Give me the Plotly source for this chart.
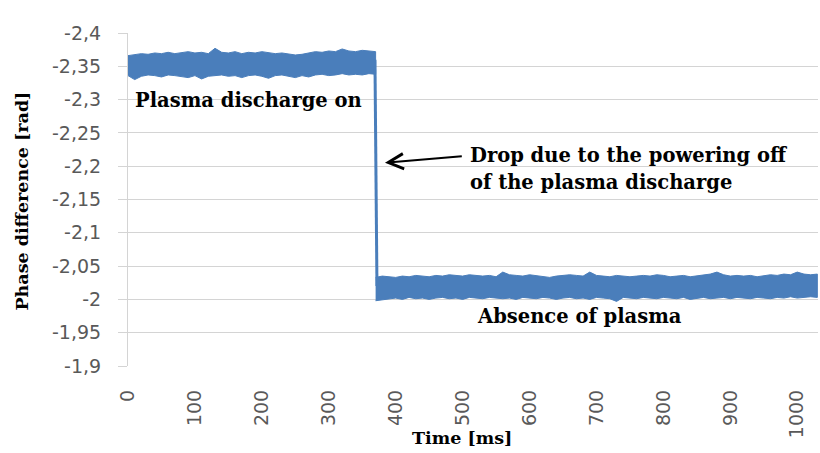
import plotly.graph_objects as go

# ---- data ----
time_on = list(range(0, 371, 10))
upper_on = [-2.366, -2.367, -2.369, -2.368, -2.370, -2.369, -2.371, -2.369, -2.370, -2.372,
            -2.370, -2.371, -2.369, -2.377, -2.371, -2.370, -2.372, -2.369, -2.371, -2.370,
            -2.372, -2.371, -2.369, -2.370, -2.368, -2.367, -2.368, -2.370, -2.372, -2.371,
            -2.373, -2.372, -2.376, -2.373, -2.372, -2.374, -2.373, -2.372]
lower_on = [-2.336, -2.330, -2.335, -2.337, -2.336, -2.334, -2.337, -2.336, -2.335, -2.333,
            -2.336, -2.331, -2.335, -2.336, -2.337, -2.335, -2.336, -2.333, -2.336, -2.337,
            -2.335, -2.332, -2.336, -2.337, -2.335, -2.333, -2.336, -2.334, -2.337, -2.338,
            -2.336, -2.337, -2.339, -2.337, -2.338, -2.337, -2.339, -2.338]

time_off = list(range(370, 1031, 10))
upper_off = [-2.033, -2.035, -2.034, -2.033, -2.035, -2.034, -2.036, -2.035, -2.034, -2.036,
             -2.035, -2.037, -2.036, -2.035, -2.037, -2.036, -2.035, -2.036, -2.034, -2.041,
             -2.037, -2.036, -2.035, -2.037, -2.036, -2.035, -2.033, -2.035, -2.036, -2.037,
             -2.036, -2.035, -2.041, -2.036, -2.035, -2.034, -2.036, -2.035, -2.034, -2.035,
             -2.036, -2.035, -2.037, -2.036, -2.034, -2.035, -2.036, -2.034, -2.035, -2.036,
             -2.038, -2.041, -2.037, -2.035, -2.036, -2.035, -2.036, -2.034, -2.036, -2.037,
             -2.036, -2.038, -2.037, -2.041, -2.038, -2.037, -2.038]
lower_off = [-1.998, -1.999, -2.001, -2.002, -2.000, -2.003, -2.001, -2.002, -2.000, -2.002,
             -2.003, -2.001, -2.002, -2.000, -2.003, -2.002, -2.001, -2.003, -2.002, -2.001,
             -2.002, -2.000, -2.003, -2.002, -2.001, -2.003, -2.002, -2.000, -2.002, -2.003,
             -2.001, -2.002, -2.000, -2.003, -2.002, -2.001, -1.997, -2.003, -2.002, -2.001,
             -2.003, -2.002, -2.001, -2.003, -2.002, -2.001, -2.003, -2.000, -2.002, -2.003,
             -2.001, -2.002, -2.003, -2.001, -2.003, -2.002, -2.001, -2.003, -2.002, -2.001,
             -2.003, -2.002, -2.004, -2.002, -2.003, -2.004, -2.003]

drop_time = [369, 372]
drop_phase = [-2.36, -2.02]

y_tickvals = [-2.4, -2.35, -2.3, -2.25, -2.2, -2.15, -2.1, -2.05, -2.0, -1.95, -1.9]
y_ticktext = ["-2,4", "-2,35", "-2,3", "-2,25", "-2,2", "-2,15", "-2,1", "-2,05", "-2", "-1,95", "-1,9"]
x_tickvals = [0, 100, 200, 300, 400, 500, 600, 700, 800, 900, 1000]
x_ticktext = [str(v) for v in x_tickvals]

BLUE = "#4a7ebb"
SERIF = "DejaVu Serif"
SANS = "DejaVu Sans"

fig = go.Figure()

def band(t, up, lo):
    return go.Scatter(x=list(t) + list(t)[::-1], y=list(up) + list(lo)[::-1],
                      fill="toself", fillcolor=BLUE, mode="lines",
                      line=dict(color=BLUE, width=1), hoverinfo="skip", showlegend=False)

fig.add_trace(band(time_on, upper_on, lower_on))
fig.add_trace(go.Scatter(x=drop_time, y=drop_phase, mode="lines",
                         line=dict(color=BLUE, width=3), showlegend=False))
fig.add_trace(band(time_off, upper_off, lower_off))

fig.update_layout(
    width=820, height=453,
    margin=dict(l=128, r=2, t=33, b=87),
    paper_bgcolor="white", plot_bgcolor="white",
    showlegend=False,
    xaxis=dict(range=[0, 1031], tickvals=x_tickvals, ticktext=x_ticktext,
               tickangle=-90, showgrid=False, zeroline=False,
               showline=False, ticks="", ticklabelstandoff=19,
               tickfont=dict(family=SANS, size=19, color="#595959")),
    yaxis=dict(range=[-1.9, -2.4], tickvals=y_tickvals, ticktext=y_ticktext,
               showgrid=True, gridcolor="#d4d4d4", gridwidth=1, zeroline=False,
               showline=True, linecolor="#d4d4d4", linewidth=1,
               ticks="outside", ticklen=9, tickcolor="#d4d4d4",
               ticklabelstandoff=13,
               tickfont=dict(family=SANS, size=19, color="#595959")),
)

ann_font = dict(family=SERIF, size=19.5, color="black", weight="bold")
title_font = dict(family=SERIF, size=17.5, color="black", weight="bold")
fig.add_annotation(x=7, y=-2.2994, xref="x", yref="y", text="Plasma discharge on",
                   showarrow=False, xanchor="left", yanchor="middle", font=ann_font)
fig.add_annotation(x=508, y=-2.2168, xref="x", yref="y", text="Drop due to the powering off",
                   showarrow=False, xanchor="left", yanchor="middle", font=ann_font)
fig.add_annotation(x=508, y=-2.175, xref="x", yref="y", text="of the plasma discharge",
                   showarrow=False, xanchor="left", yanchor="middle", font=ann_font)
fig.add_annotation(x=518, y=-1.9736, xref="x", yref="y", text="Absence of plasma",
                   showarrow=False, xanchor="left", yanchor="middle", font=ann_font)
# arrow
fig.add_annotation(x=384, y=-2.205, xref="x", yref="y", ax=501, ay=-2.2153,
                   axref="x", ayref="y", text="", showarrow=True,
                   arrowhead=5, arrowsize=1.5, arrowwidth=2, arrowcolor="black")
# axis titles
fig.add_annotation(x=0.484, y=-0.216, xref="paper", yref="paper", text="Time [ms]",
                   showarrow=False, xanchor="center", yanchor="middle", font=title_font)
fig.add_annotation(x=-0.153, y=0.495, xref="paper", yref="paper", text="Phase difference [rad]",
                   showarrow=False, xanchor="center", yanchor="middle", textangle=-90, font=title_font)

fig.write_html("out.html", config={"displayModeBar": False},
               post_script="document.body.style.margin='0';")
